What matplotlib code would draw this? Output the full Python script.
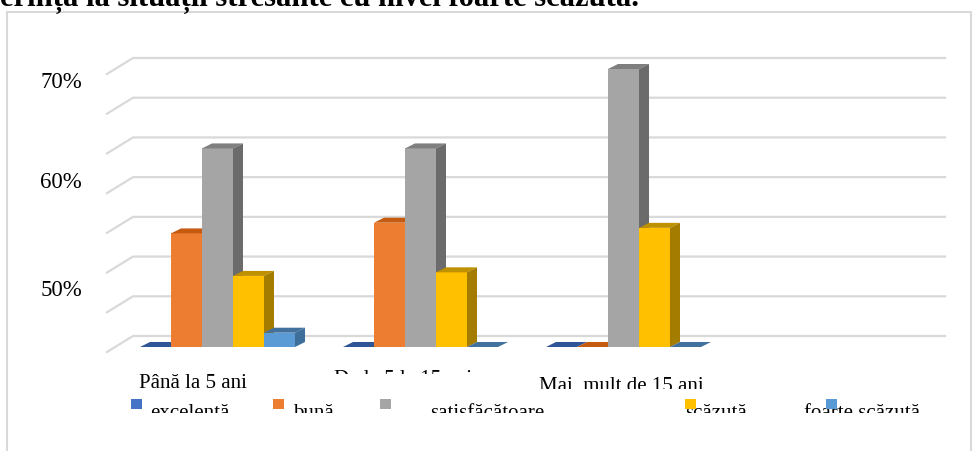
import matplotlib.pyplot as plt
from matplotlib.patches import Polygon, Rectangle
from matplotlib.transforms import Bbox

# Data (percent of respondents in each seniority group)
categories = ["Până la 5 ani", "De la 5 la 15 ani", "Mai  mult de 15 ani"]
series = ["excelentă", "bună", "satisfăcătoare", "scăzută", "foarte scăzută"]
excelenta = [0.0, 0.0, 0.0]
buna = [28.6, 31.3, 0.0]
satisfacatoare = [50.0, 50.0, 70.0]
scazuta = [17.9, 18.8, 30.0]
foarte_scazuta = [3.6, 0.0, 0.0]
values = [excelenta, buna, satisfacatoare, scazuta, foarte_scazuta]
ytick_labels = ["70%", "60%", "50%"]

# front / top / side shades per series
front = ["#4472C4", "#ED7D31", "#A5A5A5", "#FFC000", "#5B9BD5"]
top = ["#2F5597", "#C55A11", "#7F7F7F", "#BF9000", "#41719C"]
side = ["#2F5597", "#B0500F", "#6B6B6B", "#A47D00", "#3E6E9A"]

W, H = 978, 452
plt.rcParams["font.family"] = ["Liberation Serif", "DejaVu Serif"]
fig = plt.figure(figsize=(W / 100, H / 100), dpi=100)
fig.patch.set_facecolor("white")


def fx(px):
    return px / W


def fy(py):
    return 1 - py / H


# front plane of the 3D plot: 4 category slots, 0..70 %
ax = fig.add_axes([fx(116), fy(348), fx(812), 278 / H])
ax.set_xlim(0, 4)
ax.set_ylim(0, 70)
ax.axis("off")

ppu = ax.transData.transform((1, 1)) - ax.transData.transform((0, 0))


def depth(ox, oy):
    """pixel offset -> data offset"""
    return ox / ppu[0], oy / ppu[1]


bk = depth(17, 11)      # back wall
lf = depth(-9, -5)      # front edge of the side wall
bd = depth(10, 5)       # bar depth

grid_c = "#D9D9D9"
for v in range(0, 80, 10):
    ax.plot([0 + lf[0], 0 + bk[0], 4 + bk[0]],
            [v + lf[1], v + bk[1], v + bk[1]],
            color=grid_c, lw=1.6, zorder=1, clip_on=False)

n = len(series)
bw = 0.1527
gap = (1 - n * bw) / 2
for i in range(len(categories)):
    for j in range(n):
        x0 = i + gap + j * bw
        x1 = x0 + bw
        h = values[j][i]
        z = 10 + 3 * j + 20 * i
        ax.bar(x0, h, bw, align="edge", color=front[j], zorder=z,
               clip_on=False, linewidth=0)
        ax.add_patch(Polygon([(x0, h), (x1, h), (x1 + bd[0], h + bd[1]),
                              (x0 + bd[0], h + bd[1])],
                             closed=True, fc=top[j], ec="none",
                             zorder=z + 1, clip_on=False))
        if h > 0:
            ax.add_patch(Polygon([(x1, 0), (x1, h), (x1 + bd[0], h + bd[1]),
                                  (x1 + bd[0], bd[1])],
                                 closed=True, fc=side[j], ec="none",
                                 zorder=z + 1, clip_on=False))

# chart frame
fig.add_artist(Rectangle((fx(7), fy(460)), fx(964), (460 - 13) / H,
                         transform=fig.transFigure, fill=False,
                         ec="#D9D9D9", lw=1.5))

# heading line, running off the top edge
fig.text(fx(0), fy(6), "erința la situații stresante cu nivel foarte scăzută.",
         fontsize=22, fontweight="bold", ha="left", va="baseline")

# value axis labels
for lab, py in zip(ytick_labels, [83, 183, 290]):
    fig.text(fx(82), fy(py), lab, fontsize=16.5, ha="right", va="center")


def clipped_text(px, py, s, clip_py, **kw):
    t = fig.text(fx(px), fy(py), s, fontsize=15, va="baseline", **kw)
    t.set_clip_box(Bbox([[0, H - clip_py], [W, H]]))
    t.set_clip_on(True)
    return t


# category labels
cat_x = [193, 403, 621]
cat_base = [388, 384, 391]
cat_clip = [400, 375, 390]
for lab, px, py, cp in zip(categories, cat_x, cat_base, cat_clip):
    clipped_text(px, py, lab, cp, ha="center")

# legend
mark_x = [131, 273, 380, 685, 826]
text_x = [150, 293, 430, 685, 804]
for j, lab in enumerate(series):
    fig.add_artist(Rectangle((fx(mark_x[j]), fy(410)), fx(11), 10 / H,
                             transform=fig.transFigure, fc=front[j],
                             ec="none", zorder=5))
    clipped_text(text_x[j], 418, lab, 414, ha="left")

fig.savefig("out.png", dpi=100)
